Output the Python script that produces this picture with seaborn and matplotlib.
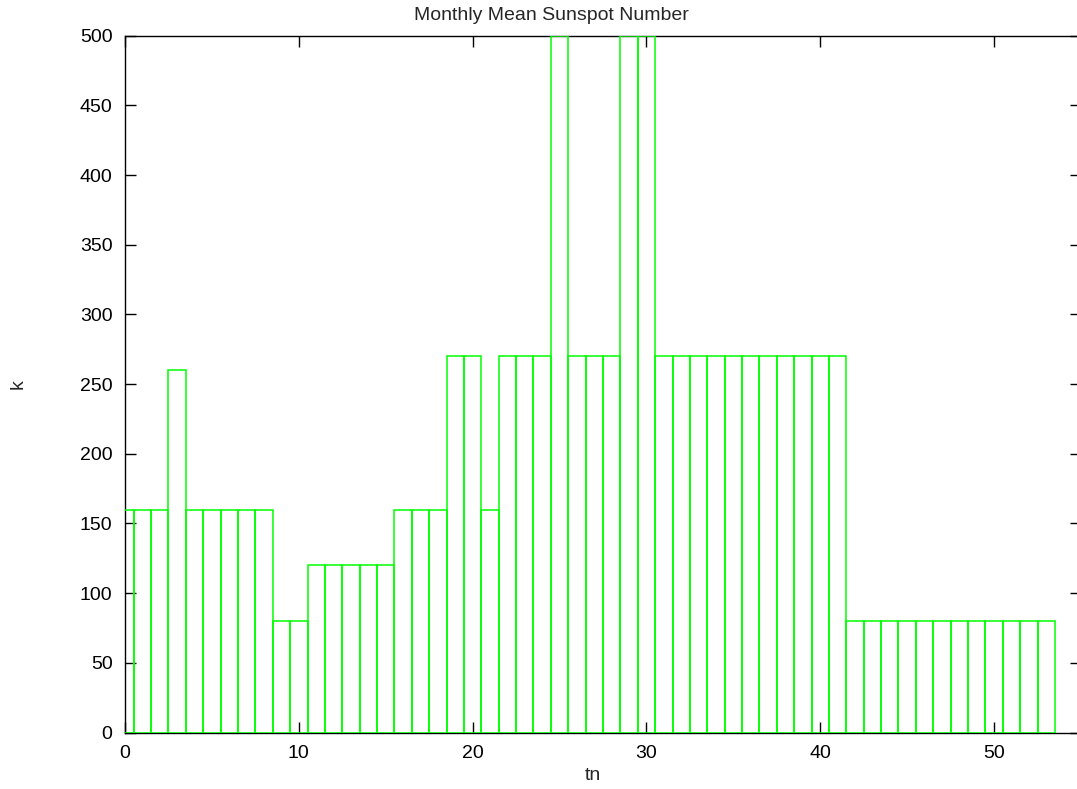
import numpy as np
import pandas as pd
import matplotlib; matplotlib.use("Agg")
import matplotlib.pyplot as plt
import seaborn as sns

# bar heights, one per tn = 0..53
tn = list(range(54))
k = ([160, 160, 160, 260] + [160] * 5 + [80, 80] + [120] * 5 + [160] * 3
     + [270, 270, 160] + [270] * 3 + [500] + [270] * 3 + [500, 500]
     + [270] * 11 + [80] * 12)

TITLE  = "Monthly Mean Sunspot Number"
XLABEL = "tn"
YLABEL = "k"
XTICKS = [0, 10, 20, 30, 40, 50]
YTICKS = list(range(0, 501, 50))

W, H = 1077, 789
GREEN = "#00ff00"

sns.set_style("ticks")
plt.rcParams["font.family"] = ["Liberation Sans", "DejaVu Sans"]

df = pd.DataFrame({"tn": tn, "k": k})

fig = plt.figure(figsize=(W / 100, H / 100), dpi=100)
# plot box in pixels: x 125..1081 (right border just off canvas), y 35.7..732.5
ax = fig.add_axes([125 / W, 1 - 732.5 / H, (1081 - 125) / W, (732.5 - 35.7) / H])

sns.barplot(data=df, x="tn", y="k", native_scale=True, width=1.0,
            fill=False, color=GREEN, linewidth=1.1, errorbar=None, ax=ax)
for p in ax.patches:
    p.set_edgecolor(GREEN)
    p.set_zorder(3)

ax.set_xlim(0, 55)
ax.set_ylim(0, 500)
ax.set_xticks(XTICKS)
ax.set_yticks(YTICKS)
ax.set_xlabel("")
ax.set_ylabel("")
ax.tick_params(direction="in", length=8, width=1, top=True, right=True,
               labelsize=14, colors="black", pad=9)
for s in ax.spines.values():
    s.set_visible(True)
    s.set_linewidth(1.0)
    s.set_color("black")

fig.text(551 / W, 1 - 15 / H, TITLE, ha="center", va="center", fontsize=14)
fig.text(593 / W, 1 - 775 / H, XLABEL, ha="center", va="center", fontsize=14)
fig.text(18 / W, 1 - 384 / H, YLABEL, ha="center", va="center", fontsize=14,
         rotation=90)

fig.savefig("out.png", dpi=100)
